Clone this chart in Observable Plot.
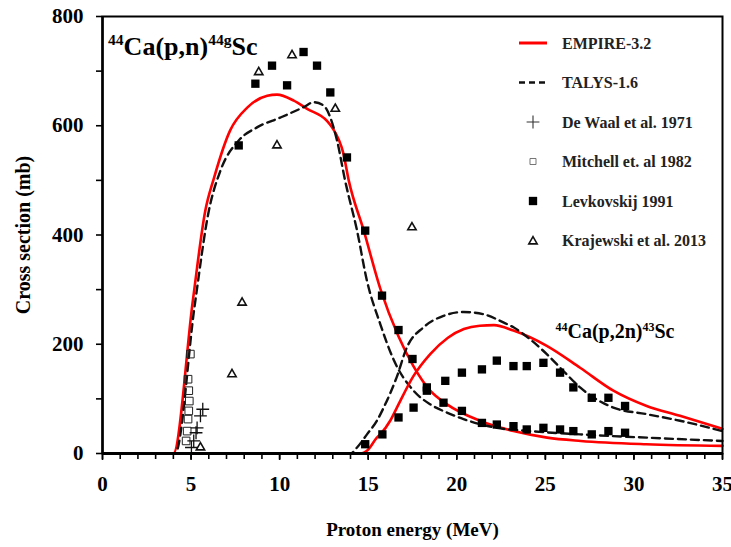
<!DOCTYPE html>
<html><head><meta charset="utf-8">
<script src="https://cdn.jsdelivr.net/npm/d3@7"></script>
<script src="https://cdn.jsdelivr.net/npm/@observablehq/plot@0.6"></script>
<style>body{margin:0;background:#fff}</style>
</head><body><div id="chart"></div>
<script>
// ---- data ----
const empirePnE = [1.5, 4.0, 5.1, 5.8, 6.3, 7.2, 8.2, 9.3, 9.85, 10.8, 11.55, 12.67, 12.96, 13.6, 13.9, 14.75, 15.7, 16.7, 17.55, 18.5, 19.45, 21.3, 23.2, 25.1, 27.0, 30.7, 35];
const empirePnS = [0, 0, 280, 444, 505, 591, 634, 655, 657, 646, 631, 609, 597, 549, 500, 408, 300, 215, 160, 115, 90, 60, 41, 29, 23, 17, 14];

const talysPnE = [1.5, 4.1, 5.2, 6.0, 6.66, 7.69, 8.72, 10.04, 11.35, 11.92, 12.48, 12.86, 13.24, 13.7, 14.37, 14.93, 15.68, 16.43, 17.56, 18.5, 19.44, 20.38, 22.26, 24.14, 26.96, 30.72, 35];
const talysPnS = [0, 0, 270, 444, 518, 573, 597, 615, 634, 643, 637, 615, 573, 499, 408, 316, 237, 172, 115, 90, 75, 63, 47, 41, 35, 29, 23];

const empireP2nE = [13.0, 14.6, 14.93, 15.49, 15.68, 16.24, 16.62, 17.56, 18.5, 19.5, 20.4, 21.3, 22.1, 23.2, 25.08, 26.96, 28.84, 30.72, 32.6, 35];
const empireP2nS = [0, 0, 5, 29, 35, 60, 84, 142, 182, 212, 228, 234, 235, 225, 197, 157, 115, 87, 69, 45];

const talysP2nE = [13.0, 14.0, 14.37, 14.93, 15.49, 15.96, 16.6, 17.18, 18.12, 19.25, 20.38, 21.5, 22.63, 23.2, 24.14, 25.08, 26.02, 26.96, 28.84, 30.72, 32.6, 35];
const talysP2nS = [0, 0, 11, 35, 60, 90, 139, 194, 231, 252, 259, 255, 240, 231, 209, 182, 151, 121, 84, 72, 60, 41];

const dewaalE = [5.02, 5.15, 5.28, 5.34, 5.53, 5.66];
const dewaalS = [11, 23, 38, 47, 69, 81];

const mitchellE = [4.72, 4.78, 4.83, 4.87, 4.9, 4.87, 4.83, 4.96];
const mitchellS = [23, 41, 63, 78, 96, 115, 136, 182];

const levPnE = [7.69, 8.63, 9.57, 10.42, 11.35, 12.11, 12.86, 13.8, 14.83, 15.78, 16.71, 17.5, 18.31, 19.25, 20.29, 21.42, 22.26, 23.2, 23.95, 24.89, 25.83, 26.58, 27.62, 28.56, 29.5];
const levPnS = [564, 677, 710, 674, 735, 710, 661, 542, 408, 289, 226, 173, 121, 93, 78, 56, 53, 50, 44, 47, 44, 41, 35, 41, 38];

const levP2nE = [14.83, 15.8, 16.71, 17.56, 18.31, 19.35, 20.29, 21.42, 22.26, 23.2, 23.95, 24.89, 25.83, 26.58, 27.62, 28.56, 29.5];
const levP2nS = [17, 35, 66, 84, 115, 133, 148, 154, 170, 160, 160, 166, 148, 121, 102, 102, 87];

const krajE = [5.53, 7.31, 7.88, 8.82, 9.85, 10.7, 13.14, 17.47];
const krajS = [11, 145, 276, 698, 564, 729, 631, 414];

const xMajor = [0, 5, 10, 15, 20, 25, 30, 35];
const xMinor = d3.range(0, 36, 1);
const yMajor = [0, 200, 400, 600, 800];
const yMinor = [100, 300, 500, 700];

const legendLabels = ["EMPIRE-3.2", "TALYS-1.6", "De Waal et al. 1971", "Mitchell et. al 1982", "Levkovskij 1991", "Krajewski et al. 2013"];

// ---- tables ----
const zip = (E, S) => E.map((e, i) => ({E: e, S: S[i]}));
const empirePn = zip(empirePnE, empirePnS);
const talysPn = zip(talysPnE, talysPnS);
const empireP2n = zip(empireP2nE, empireP2nS);
const talysP2n = zip(talysP2nE, talysP2nS);
const dewaal = zip(dewaalE, dewaalS);
const mitchell = zip(mitchellE, mitchellS);
const lev = zip(levPnE, levPnS).concat(zip(levP2nE, levP2nS));
const kraj = zip(krajE, krajS);

const RED = "#ff0000";
const DASH = "8,5";
const redLine = {x: "E", y: "S", stroke: RED, strokeWidth: 2.6, curve: "monotone-x"};
const dashLine = {x: "E", y: "S", stroke: "#111", strokeWidth: 2.4, strokeDasharray: DASH, curve: "monotone-x"};

const R = {plus: 4.2, open: 4.3, sq: 4.7, tri: 3.1};

const plot = Plot.plot({
  width: 731, height: 547,
  marginLeft: 102, marginRight: 9, marginTop: 16, marginBottom: 94,
  x: {domain: [0, 35]},
  y: {domain: [0, 800]},
  style: {fontFamily: "'Liberation Serif', 'Times New Roman', serif", fontWeight: "bold", fontSize: "20px", background: "white", color: "black", overflow: "visible"},
  marks: [
    Plot.line(empirePn, redLine),
    Plot.line(talysPn, dashLine),
    Plot.line(empireP2n, redLine),
    Plot.line(talysP2n, dashLine),
    Plot.dot(mitchell, {x: "E", y: "S", symbol: "square", r: R.open, stroke: "#222", strokeWidth: 1, fill: "none"}),
    Plot.dot(dewaal, {x: "E", y: "S", symbol: "plus", r: R.plus, stroke: "#111", strokeWidth: 1.3}),
    Plot.dot(lev, {x: "E", y: "S", symbol: "square", r: R.sq, fill: "#000", stroke: "none"}),
    Plot.dot(kraj, {x: "E", y: "S", symbol: "triangle", r: R.tri, stroke: "#111", strokeWidth: 1.6, fill: "none"}),
    Plot.ruleX([0], {stroke: "#000", strokeWidth: 2.5}),
    Plot.ruleY([0], {stroke: "#000", strokeWidth: 3}),
    Plot.frame({stroke: "#000", strokeWidth: 2}),
    Plot.axisX({ticks: xMinor, tickSize: 6, tickFormat: () => "", label: null, strokeWidth: 1.6}),
    Plot.axisX({ticks: xMajor, tickSize: 7, tickPadding: 16, strokeWidth: 1.6, fontSize: 21, label: null}),
    Plot.axisX({ticks: [], fontSize: 19, label: "Proton energy (MeV)", labelAnchor: "center", labelOffset: 82, labelArrow: "none"}),
    Plot.axisY({ticks: yMinor, tickSize: 6, tickFormat: () => "", label: null, strokeWidth: 1.6}),
    Plot.axisY({ticks: yMajor, tickSize: 6, tickPadding: 13, strokeWidth: 1.6, fontSize: 21, label: null}),
    Plot.axisY({ticks: [], fontSize: 20, label: "Cross section (mb)", labelAnchor: "center", labelOffset: 87, labelArrow: "none"})
  ]
});
document.getElementById("chart").append(plot);

// ---- annotations (placed through the plot's scales) ----
const sx = plot.scale("x"), sy = plot.scale("y");
const svg = d3.select(plot);
function reaction(e, s, size, parts) {
  const t = svg.append("text")
    .attr("x", sx.apply(e)).attr("y", sy.apply(s))
    .attr("text-anchor", "start")
    .attr("font-family", "'Liberation Serif', serif").attr("font-weight", "bold")
    .attr("font-size", size).attr("fill", "#000");
  let prevSup = false;
  parts.forEach(([txt, sup]) => {
    const ts = t.append("tspan").text(txt);
    let dy = 0;
    if (sup && !prevSup) dy = -size * 0.38;
    if (!sup && prevSup) dy = size * 0.38;
    ts.attr("dy", dy);
    if (sup) ts.attr("font-size", size * 0.6);
    prevSup = sup;
  });
}
reaction(0.34, 728, 26, [["44", true], ["Ca(p,n)", false], ["44g", true], ["Sc", false]]);
reaction(25.6, 210, 20, [["44", true], ["Ca(p,2n)", false], ["43", true], ["Sc", false]]);

// ---- legend ----
const lg = svg.append("g").attr("font-family", "'Liberation Serif', serif").attr("font-weight", "bold").attr("font-size", 16).attr("text-anchor", "start");
const lx0 = 519, lx1 = 547, ltx = 562, ly0 = 43, ldy = 39.5;
const sym = (type, r) => d3.symbol(type, Math.PI * r * r)();
legendLabels.forEach((lab, i) => {
  const y = ly0 + i * ldy, cx = (lx0 + lx1) / 2;
  if (i === 0) lg.append("line").attr("x1", lx0).attr("x2", lx1).attr("y1", y).attr("y2", y).attr("stroke", RED).attr("stroke-width", 3);
  if (i === 1) lg.append("line").attr("x1", lx0).attr("x2", lx1).attr("y1", y).attr("y2", y).attr("stroke", "#111").attr("stroke-width", 2.6).attr("stroke-dasharray", "6,4");
  if (i === 2) lg.append("path").attr("d", sym(d3.symbolPlus, R.plus)).attr("transform", `translate(${cx},${y})`).attr("stroke", "#333").attr("stroke-width", 1.1).attr("fill", "none");
  if (i === 3) lg.append("path").attr("d", sym(d3.symbolSquare, 3.4)).attr("transform", `translate(${cx},${y})`).attr("stroke", "#666").attr("stroke-width", 0.9).attr("fill", "none");
  if (i === 4) lg.append("path").attr("d", sym(d3.symbolSquare, R.sq)).attr("transform", `translate(${cx},${y})`).attr("fill", "#000");
  if (i === 5) lg.append("path").attr("d", sym(d3.symbolTriangle, R.tri)).attr("transform", `translate(${cx},${y + 1})`).attr("stroke", "#111").attr("stroke-width", 1.6).attr("fill", "none");
  lg.append("text").attr("x", ltx).attr("y", y).attr("dy", "0.35em").attr("fill", "#222").text(lab);
});
</script>
</body></html>
